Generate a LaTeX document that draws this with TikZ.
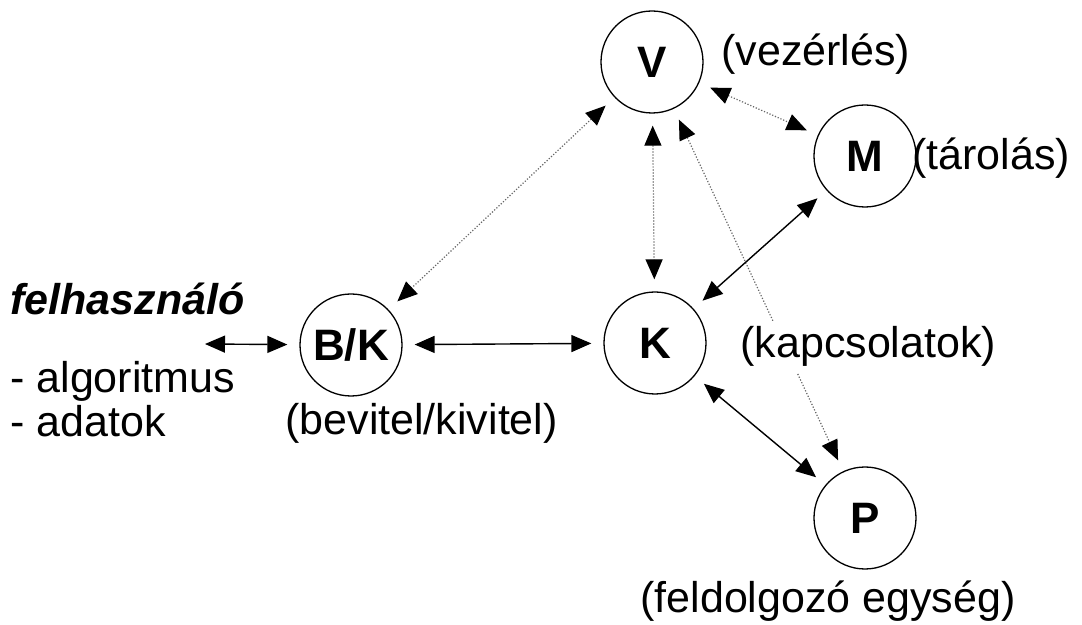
\documentclass[tikz,border=0pt]{standalone}
\usepackage{fontspec}
\setmainfont{Liberation Sans}
\usetikzlibrary{arrows.meta}
\begin{document}
\begin{tikzpicture}[x=0.5pt,y=-0.5pt,
  unit/.style={circle, draw, line width=0.65pt, minimum size=51pt, inner sep=0pt,
    font=\fontsize{22}{24}\selectfont\bfseries},
  lbl/.style={font=\fontsize{21.5}{24}\selectfont, inner sep=0pt, anchor=base west},
  solidarrow/.style={{Triangle[length=10pt,width=8.5pt]}-{Triangle[length=10pt,width=8.5pt]},
    line width=0.7pt, shorten <=6pt, shorten >=6pt},
  dotarrow/.style={{Triangle[length=10pt,width=8.5pt,color=black]}-{Triangle[length=10pt,width=8.5pt,color=black]},
    line width=0.6pt, draw=black!60, dash pattern=on 0.6pt off 0.9pt,
    shorten <=6pt, shorten >=6pt}
]
\useasboundingbox (0,0) rectangle (1082,625);

% units
\node[unit] (v)  at (652,62)  {V};
\node[unit] (m)  at (865,156) {M};
\node[unit] (bk) at (351,345) {B/K};
\node[unit] (k)  at (655,343) {K};
\node[unit] (p)  at (865,518) {P};
\coordinate (user) at (205,344);

% dotted connections
\draw[dotarrow] (v) -- (bk);
\draw[dotarrow] (v) -- (k);
\draw[dotarrow] (v) -- (m);
\draw[dotarrow] (v) -- (p);

% solid connections
\draw[solidarrow, shorten <=0pt] (user) -- (bk);
\draw[solidarrow] (bk) -- (k);
\draw[solidarrow] (k) -- (m);
\draw[solidarrow] (k) -- (p);

% labels
\node[lbl] (vlbl) at (721,66) {(vezérlés)};
\node[lbl] (mlbl) at (912,170) {(tárolás)};
\node[lbl, fill=white, inner ysep=3pt] (klbl) at (740,358) {(kapcsolatok)};
\node[lbl] (bklbl) at (285,435) {(bevitel/kivitel)};
\node[lbl] (plbl) at (640,612) {(feldolgozó egység)};
\node[lbl, font=\fontsize{21.5}{24}\selectfont\bfseries\itshape] (ulbl) at (10,315) {felhasználó};
\node[lbl] (alg) at (10,393) {- algoritmus};
\node[lbl] (adat) at (10,437) {- adatok};
\end{tikzpicture}
\end{document}
